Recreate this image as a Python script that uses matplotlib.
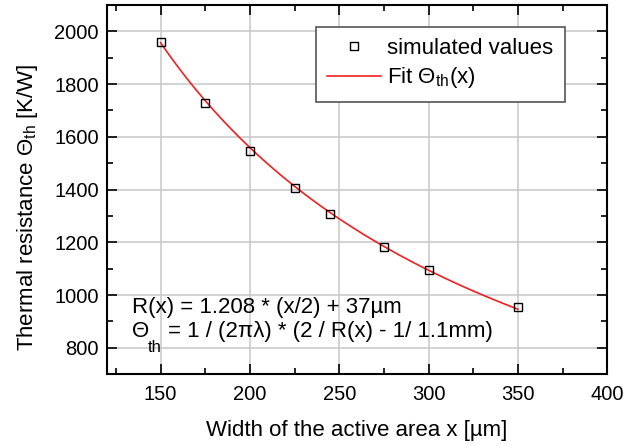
import numpy as np
import matplotlib
matplotlib.use("Agg")
import matplotlib.pyplot as plt
from matplotlib.ticker import MultipleLocator
from matplotlib.transforms import offset_copy

plt.rcParams['font.family'] = ['Liberation Sans', 'DejaVu Sans']
plt.rcParams['mathtext.fontset'] = 'custom'
plt.rcParams['mathtext.rm'] = 'Liberation Sans'
plt.rcParams['mathtext.it'] = 'Liberation Sans:italic'

# simulated thermal resistance vs. width of active area
width_um = [150, 175, 200, 225, 245, 275, 300, 350]
theta_kw = [1958, 1729, 1547, 1404, 1306, 1184, 1096, 955]

# fit: R(x) = 1.208*(x/2) + 37um, Theta = 1/(2 pi lambda) * (2/R - 1/1.1mm)
r_slope = 1.208
r_offset = 37.0        # um
r_outer = 1100.0       # um
prefactor = 132500.0   # 1/(2 pi lambda), K/W * um

xf = np.linspace(min(width_um), max(width_um), 300)
rf = r_slope * (xf / 2) + r_offset
theta_fit = prefactor * (2 / rf - 1 / r_outer)

fs = 16

fig, ax = plt.subplots(figsize=(6.26, 4.46), dpi=100)
fig.subplots_adjust(left=0.171, right=0.970, top=0.989, bottom=0.161)

ax.plot(width_um, theta_kw, ls='none', marker='s', ms=6, mfc='none',
        mec='black', mew=1.0, label='simulated values', zorder=3)
ax.plot(xf, theta_fit, color='#f02020', lw=1.2, label=r'Fit $\Theta_{\rm th}$(x)', zorder=2)

ax.set_xlim(120, 400)
ax.set_ylim(700, 2100)
ax.xaxis.set_major_locator(MultipleLocator(50))
ax.xaxis.set_minor_locator(MultipleLocator(25))
ax.yaxis.set_major_locator(MultipleLocator(200))
ax.yaxis.set_minor_locator(MultipleLocator(100))
ax.tick_params(which='both', direction='in', top=True, right=True, labelsize=14.5, width=1.2)
ax.tick_params(which='major', length=7)
ax.tick_params(which='minor', length=4)
ax.tick_params(axis='x', which='major', pad=8)
ax.tick_params(axis='y', which='major', pad=6)
ax.grid(True, which='major', color='#c8c8c8', lw=1.1)
ax.set_axisbelow(True)
for s in ax.spines.values():
    s.set_linewidth(1.5)

ax.set_xlabel('Width of the active area x [µm]', fontsize=fs, labelpad=11)
ax.set_ylabel(r'Thermal resistance $\Theta_{\rm th}$ [K/W]', fontsize=fs)
ax.yaxis.set_label_coords(-0.134, 0.451)

leg = ax.legend(loc='upper right', bbox_to_anchor=(0.915, 0.941), borderaxespad=0,
                fontsize=fs, frameon=True, fancybox=False, edgecolor='#555555',
                framealpha=1, handlelength=2.4, handletextpad=0.3, borderpad=0.5,
                labelspacing=0.3, markerscale=0.9)
leg.get_frame().set_linewidth(1.2)

# fit formula, with a dropped subscript on Theta
tx, ty = 0.05, 0.100
ax.text(tx, 0.165, 'R(x) = 1.208 * (x/2) + 37µm', transform=ax.transAxes,
        fontsize=fs, va='baseline')
ax.text(tx, ty, 'Θ', transform=ax.transAxes, fontsize=fs, va='baseline')
ax.text(tx, ty, 'th', fontsize=12, va='baseline',
        transform=offset_copy(ax.transAxes, fig=fig, x=11.5, y=-10.5, units='points'))
ax.text(tx, ty, '= 1 / (2πλ) * (2 / R(x) - 1/ 1.1mm)', fontsize=fs, va='baseline',
        transform=offset_copy(ax.transAxes, fig=fig, x=26, y=0, units='points'))

fig.savefig('out.png', dpi=100)
